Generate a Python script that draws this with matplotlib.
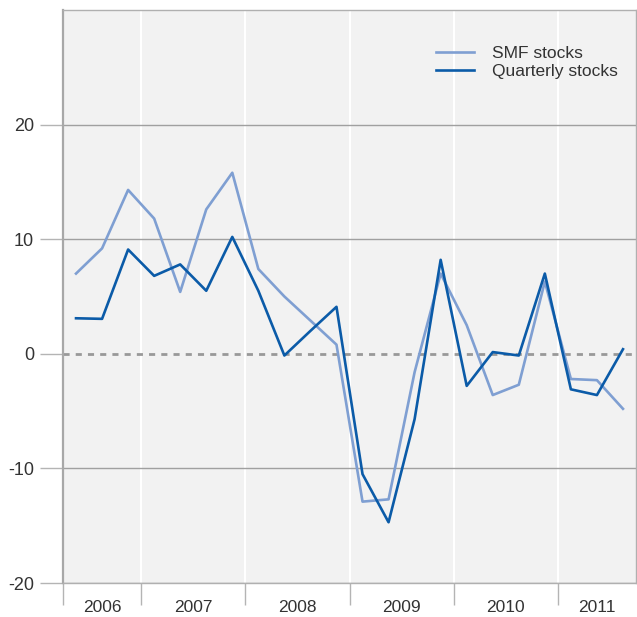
import matplotlib
matplotlib.use("Agg")
import matplotlib.pyplot as plt
import numpy as np

plt.rcParams["font.family"] = ["Liberation Sans", "DejaVu Sans"]
fs = 12.5
text_color = "#333333"
grid_color = "#a0a0a0"

# quarterly observations, 2006 Q2 .. 2011 Q3
smf_stocks = [7.0, 9.2, 14.3, 11.8, 5.4, 12.6, 15.8, 7.4, 5.0, 2.9, 0.8,
              -12.9, -12.7, -1.6, 7.0, 2.5, -3.6, -2.7, 6.3, -2.2, -2.3, -4.8]
quarterly_stocks = [3.1, 3.05, 9.1, 6.8, 7.8, 5.5, 10.2, 5.5, -0.15, 2.0, 4.1,
                    -10.5, -14.7, -5.7, 8.2, -2.8, 0.15, -0.15, 7.0, -3.1, -3.6, 0.4]
years = ["2006", "2007", "2008", "2009", "2010", "2011"]
quarters_per_year = [3, 4, 4, 4, 4, 3]
yticks = [-20, -10, 0, 10, 20]

fig = plt.figure(figsize=(6.37, 6.17), dpi=100)
ax = fig.add_axes([63 / 637, 34 / 617, 573 / 637, 573 / 617])
ax.set_facecolor("#f2f2f2")

x = np.arange(len(smf_stocks)) + 0.5
n = len(smf_stocks)
ax.set_xlim(0, n)
ax.set_ylim(-20, 30)

# year boundaries
bounds = np.concatenate([[0], np.cumsum(quarters_per_year)])
for b in bounds[1:-1]:
    ax.axvline(b, color="white", linewidth=1.5, zorder=1)

# horizontal grid, dashed at zero
for yv in yticks:
    if yv == 0:
        ax.axhline(0, color="#999999", linewidth=2.0, linestyle=(0, (2.2, 2.2)), zorder=1)
    else:
        ax.axhline(yv, color=grid_color, linewidth=1.0, zorder=1)

ax.plot(x, smf_stocks, color="#7f9fd2", linewidth=1.9, label="SMF stocks", zorder=3)
ax.plot(x, quarterly_stocks, color="#0b5ba8", linewidth=1.9, label="Quarterly stocks", zorder=4)

# y axis (tick length / pad in points: 1 px = 0.72 pt at 100 dpi)
ax.set_yticks(yticks)
ax.set_yticklabels([str(v) for v in yticks], fontsize=13, color=text_color)
ax.tick_params(axis="y", length=16.5, width=1.0, color="#b4b4b4", pad=4.3)

# x axis: ticks at year boundaries, labels centred in each year
ax.set_xticks(bounds[:-1])
ax.set_xticklabels([])
ax.tick_params(axis="x", length=16, width=1.0, color="#b4b4b4")
centres = (bounds[:-1] + bounds[1:]) / 2
for c, yr in zip(centres, years):
    ax.text(c, -0.03, yr, transform=ax.get_xaxis_transform(), ha="center", va="top",
            fontsize=fs, color=text_color)

for side in ["top", "right", "bottom"]:
    ax.spines[side].set_color("#b0b0b0")
    ax.spines[side].set_linewidth(1.0)
ax.spines["left"].set_color("#a8a8a8")
ax.spines["left"].set_linewidth(1.6)

leg = ax.legend(loc="upper right", bbox_to_anchor=(0.995, 0.965), frameon=False,
                fontsize=fs, handlelength=2.2, handletextpad=1.0, labelspacing=0.15)
for t in leg.get_texts():
    t.set_color(text_color)

fig.savefig("out.png", dpi=100)
